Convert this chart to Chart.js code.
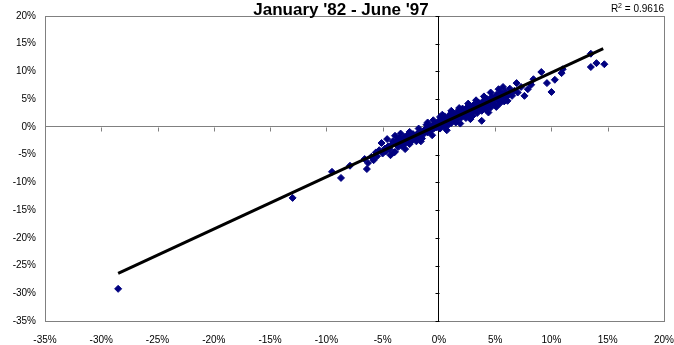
<!DOCTYPE html>
<html>
<head>
<meta charset="utf-8">
<script src="https://cdn.jsdelivr.net/npm/chart.js@4/dist/chart.umd.min.js"></script>
<style>
  html, body { margin: 0; padding: 0; background: #fff; }
  #wrap { width: 674px; height: 345px; }
</style>
</head>
<body>
<div id="wrap"><canvas id="scatter-chart"></canvas></div>
<script>
// Monthly returns, Jan '82 - Jun '97 (percent)
const xReturns = [
  -28.5, -13.0, -9.5, -8.7, -7.9, -6.6, -6.4, -6.3, -6.0, -5.8,
  -5.6, -5.5, -5.3, -5.1, -5.0, -4.8, -4.7, -4.5, -4.4, -4.2,
  -4.1, -4.0, -3.9, -3.9, -3.8, -3.7, -3.6, -3.5, -3.4, -3.3,
  -3.2, -3.1, -3.0, -2.9, -2.8, -2.7, -2.6, -2.5, -2.4, -2.3,
  -2.2, -2.1, -2.0, -1.9, -1.8, -1.7, -1.6, -1.5, -1.4, -1.3,
  -1.2, -1.1, -1.0, -0.9, -0.8, -0.7, -0.6, -0.5, -0.4, -0.3,
  -0.2, -0.1, 0.0, 0.1, 0.1, 0.2, 0.3, 0.4, 0.5, 0.5,
  0.6, 0.7, 0.8, 0.9, 1.0, 1.0, 1.1, 1.2, 1.3, 1.4,
  1.5, 1.5, 1.6, 1.7, 1.8, 1.9, 2.0, 2.0, 2.1, 2.2,
  2.3, 2.4, 2.5, 2.5, 2.6, 2.7, 2.8, 2.9, 3.0, 3.0,
  3.1, 3.2, 3.3, 3.4, 3.5, 3.6, 3.7, 3.8, 3.8, 3.9,
  4.0, 4.1, 4.2, 4.3, 4.4, 4.5, 4.6, 4.7, 4.8, 4.9,
  5.0, 5.1, 5.2, 5.3, 5.4, 5.5, 5.6, 5.7, 5.8, 5.9,
  6.0, 6.2, 6.3, 6.5, 6.7, 6.9, 7.0, 7.3, 7.6, 7.9,
  8.2, 8.4, 9.1, 9.6, 10.0, 10.3, 10.9, 11.0, 13.5, 13.5,
  14.0, 14.7,
  -4.6, -3.4, -2.6, -1.8, -1.0, -0.5, 0.3, 1.1, 1.8, 2.6,
  3.3, 4.0, 4.6, 5.3, 5.7, -4.3, -3.0, -1.6, -0.6, 0.7,
  1.9, 2.8, 4.4, 5.1, 6.1
];
const yReturns = [
  -29.2, -12.8, -8.1, -9.2, -7.0, -5.8, -7.6, -6.5, -5.4, -6.0,
  -4.6, -5.3, -4.2, -2.9, -4.8, -3.9, -4.4, -3.5, -4.0, -3.2,
  -2.6, -4.6, -1.6, -4.5, -3.0, -2.4, -3.6, -2.0, -2.8, -3.4,
  -2.3, -1.8, -3.0, -2.6, -1.5, -2.2, -3.1, -1.9, -2.5, -1.3,
  -2.0, -1.6, -2.6, -1.2, -1.8, -0.9, -1.5, -2.1, -0.8, -1.2,
  -0.4, 0.4, -1.0, -0.3, -0.7, 0.1, -0.5, 0.3, -0.2, 0.6,
  -0.1, 0.9, 0.2, 1.8, -0.3, 1.2, 0.5, 1.6, 0.0, 1.9,
  0.8, 1.4, 0.3, 1.9, 1.1, 2.3, 0.7, 1.6, 2.4, 1.2,
  2.0, 0.8, 2.7, 1.5, 2.2, 3.0, 1.7, 2.5, 3.3, 2.0,
  2.8, 1.6, 3.5, 2.4, 3.0, 2.2, 3.8, 2.7, 3.3, 2.0,
  4.0, 3.0, 3.6, 2.5, 4.4, 3.3, 3.9, 1.1, 2.9, 4.6,
  3.6, 4.2, 3.1, 5.0, 4.0, 4.6, 3.5, 5.4, 4.3, 5.0,
  3.9, 5.8, 4.8, 5.3, 4.2, 6.2, 5.0, 5.7, 4.6, 6.4,
  5.4, 6.0, 6.9, 5.6, 6.5, 7.9, 6.2, 7.2, 5.6, 6.8,
  7.6, 8.6, 9.9, 7.9, 6.3, 8.5, 9.7, 10.4, 13.2, 10.8,
  11.5, 11.3,
  -2.2, -1.2, -0.9, -0.3, 0.8, 1.2, 2.2, 2.9, 3.4, 4.2,
  4.8, 5.5, 6.2, 6.8, 7.2, -5.1, -4.0, -2.6, -1.5, -0.6,
  0.6, 1.4, 2.6, 3.6, 4.7
];

// Fitted trend line end points
const trendX = [-28.5, 14.6];
const trendY = [-26.4, 14.1];

const chartTitle = "January '82 - June '97";
const rSquared = '0.9616';

const axisMin = -35;
const axisMax = 20;
const axisStep = 5;

const FONT = '"Liberation Sans", Arial, sans-serif';
const GREY = '#808080';

const points = xReturns.map((x, i) => ({ x: x, y: yReturns[i] }));
const trend = trendX.map((x, i) => ({ x: x, y: trendY[i] }));

// Small tick marks along the two axes that cross at zero
const crossTicks = {
    id: 'crossTicks',
    beforeDatasetsDraw(chart) {
        const { ctx, scales: { x, y } } = chart;
        const x0 = Math.round(x.getPixelForValue(0)) + 0.5;
        const y0 = Math.round(y.getPixelForValue(0)) + 0.5;
        ctx.save();
        ctx.lineWidth = 1;
        ctx.strokeStyle = GREY;
        x.ticks.forEach(t => {
            const px = Math.round(x.getPixelForValue(t.value)) + 0.5;
            ctx.beginPath();
            ctx.moveTo(px, y0);
            ctx.lineTo(px, y0 + 4);
            ctx.stroke();
        });
        ctx.strokeStyle = '#000';
        y.ticks.forEach(t => {
            const py = Math.round(y.getPixelForValue(t.value)) + 0.5;
            ctx.beginPath();
            ctx.moveTo(x0, py);
            ctx.lineTo(x0 - 4, py);
            ctx.stroke();
        });
        ctx.restore();
    }
};

// Title and R squared label
const headerText = {
    id: 'headerText',
    afterDraw(chart) {
        const ctx = chart.ctx;
        ctx.save();
        ctx.fillStyle = '#000';
        ctx.textBaseline = 'alphabetic';
        ctx.font = 'bold 17px ' + FONT;
        ctx.textAlign = 'center';
        ctx.fillText(chartTitle, 341, 15);

        const right = chart.chartArea.right;
        ctx.textAlign = 'right';
        ctx.font = '10px ' + FONT;
        const tail = ' = ' + rSquared;
        ctx.fillText(tail, right, 12);
        const w1 = ctx.measureText(tail).width;
        ctx.font = '7px ' + FONT;
        ctx.fillText('2', right - w1, 8);
        const w2 = ctx.measureText('2').width;
        ctx.font = '10px ' + FONT;
        ctx.fillText('R', right - w1 - w2, 12);
        ctx.restore();
    }
};

function gridColor(zeroColor) {
    return ctx => {
        const v = ctx.tick && ctx.tick.value;
        if (v === 0) return zeroColor;
        if (v === axisMax) return GREY;
        return 'rgba(0,0,0,0)';
    };
}

new Chart(document.getElementById('scatter-chart'), {
    type: 'scatter',
    data: {
        datasets: [{
            label: 'Trend',
            data: trend,
            showLine: true,
            borderColor: '#000',
            borderWidth: 3,
            pointRadius: 0,
            fill: false
        }, {
            label: 'Returns',
            data: points,
            pointStyle: 'rectRot',
            pointRadius: 3.5,
            borderWidth: 1,
            backgroundColor: '#000080',
            borderColor: '#000080'
        }]
    },
    options: {
        responsive: true,
        maintainAspectRatio: false,
        animation: false,
        layout: { padding: { top: 16, right: 10, left: 0, bottom: 0 } },
        plugins: {
            legend: { display: false },
            tooltip: { enabled: false },
            title: { display: false }
        },
        scales: {
            x: {
                type: 'linear',
                min: axisMin,
                max: axisMax,
                afterFit: s => { s.height = 24; s.paddingRight = 10; s.paddingLeft = 0; },
                border: { display: true, color: GREY, width: 1 },
                grid: { color: gridColor('#000'), drawTicks: false, lineWidth: 1 },
                ticks: {
                    stepSize: axisStep,
                    padding: 13,
                    color: '#000',
                    font: { family: FONT, size: 10 },
                    maxRotation: 0,
                    callback: v => v + '%'
                }
            },
            y: {
                type: 'linear',
                min: axisMin,
                max: axisMax,
                afterFit: s => { s.width = 45; s.paddingTop = 0; s.paddingBottom = 0; },
                border: { display: true, color: GREY, width: 1 },
                grid: { color: gridColor(GREY), drawTicks: false, lineWidth: 1 },
                ticks: {
                    stepSize: axisStep,
                    padding: 9,
                    color: '#000',
                    font: { family: FONT, size: 10 },
                    callback: v => v + '%'
                }
            }
        }
    },
    plugins: [crossTicks, headerText]
});
</script>
</body>
</html>
